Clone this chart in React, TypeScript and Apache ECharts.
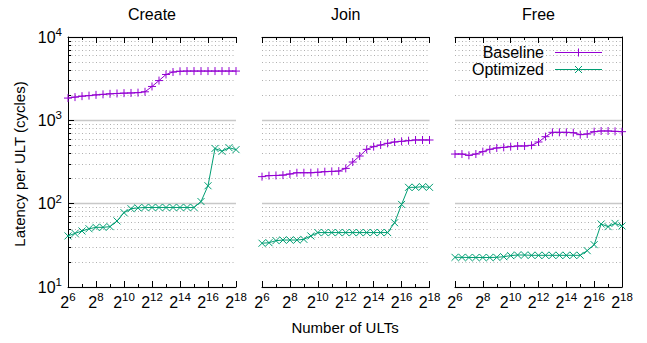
import React, { useEffect, useRef } from "react";
import * as echarts from "echarts";

const X_EXP = [6, 6.5, 7, 7.5, 8, 8.5, 9, 9.5, 10, 10.5, 11, 11.5, 12, 12.5, 13, 13.5, 14, 14.5, 15, 15.5, 16, 16.5, 17, 17.5, 18];

const PANELS = ["Create", "Join", "Free"];
const SERIES_NAMES = ["Baseline", "Optimized"];

const createBaseline = [1850, 1900, 1950, 1980, 2020, 2050, 2080, 2100, 2120, 2130, 2150, 2200, 2550, 3000, 3550, 3800, 3880, 3900, 3900, 3900, 3900, 3900, 3900, 3900, 3900];
const createOptimized = [41, 44, 47, 50, 52, 52, 53, 62, 78, 87, 89, 90, 90, 90, 90, 90, 90, 90, 90, 106, 164, 460, 425, 470, 445];
const joinBaseline = [211, 217, 218, 220, 227, 235, 235, 235, 238, 242, 244, 246, 265, 316, 373, 449, 483, 506, 530, 550, 560, 570, 581, 581, 581];
const joinOptimized = [33.5, 34, 36, 36.6, 36.6, 36.6, 37.3, 41, 45, 45, 45, 45, 45, 45, 45, 45, 45, 45, 45, 59, 98, 157, 157, 160, 157];
const freeBaseline = [394, 394, 380, 394, 421, 449, 466, 474, 483, 492, 492, 501, 550, 637, 718, 718, 718, 711, 673, 685, 731, 745, 745, 738, 731];
const freeOptimized = [22.7, 22.7, 22.6, 22.6, 22.6, 22.6, 22.7, 23.1, 23.8, 24.2, 24.2, 24, 24, 24, 24, 24, 24, 24, 24, 27.3, 32.2, 57, 53, 58, 54];

const BASELINE = [createBaseline, joinBaseline, freeBaseline];
const OPTIMIZED = [createOptimized, joinOptimized, freeOptimized];

const Y_MINOR = [20, 30, 40, 50, 60, 70, 80, 90, 200, 300, 400, 500, 600, 700, 800, 900, 2000, 3000, 4000, 5000, 6000, 7000, 8000, 9000];

const FONT = "Liberation Sans, Arial, Helvetica, sans-serif";
const PURPLE = "#9400d3";
const GREEN = "#009e73";

const GRIDS = [
  { left: 68, top: 37, width: 168, height: 250 },
  { left: 262, top: 37, width: 167.5, height: 250 },
  { left: 455, top: 37, width: 167, height: 250 },
];

const rich = {
  b: { fontSize: 16, fontFamily: FONT, color: "#000" },
  s: { fontSize: 11.5, fontFamily: FONT, color: "#000", padding: [0, 0, 10, 0] },
};

export default function App() {
  const ref = useRef<HTMLDivElement>(null);
  useEffect(() => {
    if (!ref.current) return;
    const chart = echarts.init(ref.current, null, { renderer: "svg" });
    const xAxis: any[] = [];
    const yAxis: any[] = [];
    const series: any[] = [];
    const graphic: any[] = [];
    GRIDS.forEach((g, i) => {
      const xBase = {
        gridIndex: i,
        type: "value",
        min: 6,
        max: 18,
        interval: 2,
        axisLine: { show: true, lineStyle: { color: "#000", width: 1 } },
        axisTick: { show: true, inside: true, length: 6, lineStyle: { color: "#000" } },
        minorTick: { show: true, splitNumber: 2, length: 3, lineStyle: { color: "#000" } },
        splitLine: { show: false },
        minorSplitLine: { show: false },
      };
      xAxis.push({
        ...xBase,
        position: "bottom",
        axisLabel: {
          show: true,
          margin: 4,
          formatter: (v: number) => (v % 2 === 0 ? `{b|2}{s|${v}}` : ""),
          rich,
        },
      });
      xAxis.push({ ...xBase, position: "top", axisLabel: { show: false } });

      yAxis.push({
        gridIndex: i,
        type: "log",
        logBase: 10,
        min: 10,
        max: 10000,
        position: "left",
        axisLine: { show: i === 0, lineStyle: { color: "#000", width: 1 } },
        axisTick: { show: i === 0, inside: true, length: 6, lineStyle: { color: "#000" } },
        axisLabel: {
          show: i === 0,
          margin: 6,
          formatter: (v: number) => `{b|10}{s|${Math.round(Math.log10(v))}}`,
          rich,
        },
        splitLine: { show: true, lineStyle: { color: "#c8c8c8", width: 1.3 } },
      });
      yAxis.push({
        gridIndex: i,
        type: "log",
        logBase: 10,
        min: 10,
        max: 10000,
        position: "left",
        axisLine: { show: false },
        axisTick: { show: i === 0, inside: true, length: 3, customValues: Y_MINOR, lineStyle: { color: "#000" } },
        axisLabel: { show: false },
        splitLine: { show: true, lineStyle: { color: "#b0b0b0", width: 1, type: [1, 2.5] } },
      });
      yAxis.push({
        gridIndex: i,
        type: "log",
        logBase: 10,
        min: 10,
        max: 10000,
        position: "right",
        axisLine: { show: i === 2, lineStyle: { color: "#000", width: 1 } },
        axisTick: { show: false },
        axisLabel: { show: false },
        splitLine: { show: false },
      });

      series.push({
        name: SERIES_NAMES[0],
        type: "line",
        xAxisIndex: 2 * i,
        yAxisIndex: 3 * i,
        data: X_EXP.map((x, k) => [x, BASELINE[i][k]]),
        symbol: "path://M0,-4L0,4M-4,0L4,0",
        symbolSize: 8,
        lineStyle: { color: PURPLE, width: 1 },
        itemStyle: { color: PURPLE, borderColor: PURPLE, borderWidth: 1 },
        z: 3,
      });
      series.push({
        name: SERIES_NAMES[1],
        type: "line",
        xAxisIndex: 2 * i,
        yAxisIndex: 3 * i,
        data: X_EXP.map((x, k) => [x, OPTIMIZED[i][k]]),
        symbol: "path://M-4,-4L4,4M-4,4L4,-4",
        symbolSize: 7,
        lineStyle: { color: GREEN, width: 1 },
        itemStyle: { color: GREEN, borderColor: GREEN, borderWidth: 1 },
        z: 4,
      });

      graphic.push({
        type: "text",
        x: g.left + g.width / 2,
        y: 14,
        style: { text: PANELS[i], font: `16px ${FONT}`, fill: "#000", align: "center", verticalAlign: "middle" },
      });
    });

    graphic.push({
      type: "text",
      x: 19,
      y: 164,
      rotation: Math.PI / 2,
      style: { text: "Latency per ULT (cycles)", font: `15px ${FONT}`, fill: "#000", align: "center", verticalAlign: "middle" },
    });
    graphic.push({
      type: "text",
      x: 345,
      y: 327,
      style: { text: "Number of ULTs", font: `15px ${FONT}`, fill: "#000", align: "center", verticalAlign: "middle" },
    });

    // legend (inside Free panel)
    const legendRows = [
      { name: SERIES_NAMES[0], y: 52.5, color: PURPLE, plus: true },
      { name: SERIES_NAMES[1], y: 69.5, color: GREEN, plus: false },
    ];
    legendRows.forEach((r) => {
      graphic.push({
        type: "text",
        x: 544,
        y: r.y,
        z: 10,
        style: { text: r.name, font: `16px ${FONT}`, fill: "#000", align: "right", verticalAlign: "middle" },
      });
      graphic.push({
        type: "line",
        z: 10,
        shape: { x1: 555, y1: r.y, x2: 602, y2: r.y },
        style: { stroke: r.color, lineWidth: 1 },
      });
      const cx = 578.5;
      const h = r.plus ? 4 : 3.5;
      if (r.plus) {
        graphic.push({ type: "line", z: 10, shape: { x1: cx, y1: r.y - h, x2: cx, y2: r.y + h }, style: { stroke: r.color, lineWidth: 1 } });
        graphic.push({ type: "line", z: 10, shape: { x1: cx - h, y1: r.y, x2: cx + h, y2: r.y }, style: { stroke: r.color, lineWidth: 1 } });
      } else {
        graphic.push({ type: "line", z: 10, shape: { x1: cx - h, y1: r.y - h, x2: cx + h, y2: r.y + h }, style: { stroke: r.color, lineWidth: 1 } });
        graphic.push({ type: "line", z: 10, shape: { x1: cx - h, y1: r.y + h, x2: cx + h, y2: r.y - h }, style: { stroke: r.color, lineWidth: 1 } });
      }
    });

    chart.setOption({
      animation: false,
      grid: GRIDS.map((g) => ({ ...g, containLabel: false })),
      xAxis,
      yAxis,
      series,
      graphic,
    });
    return () => chart.dispose();
  }, []);
  return <div ref={ref} style={{ position: "absolute", left: 0, top: 0, width: 647, height: 343, background: "#fff" }} />;
}
